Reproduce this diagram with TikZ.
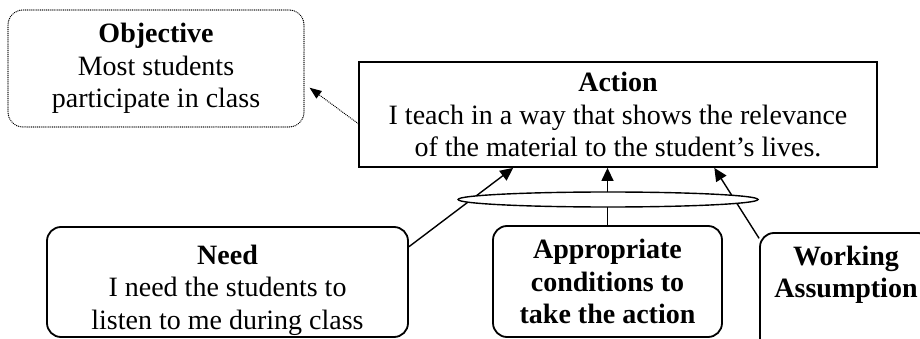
\documentclass[tikz,border=0pt]{standalone}
\usepackage{fontspec}
\setmainfont{Liberation Serif}
\usetikzlibrary{arrows.meta,calc,shapes.geometric}
\begin{document}
\begin{tikzpicture}[x=1pt,y=1pt,
  txt/.style={font=\fontsize{28}{32.5}\selectfont, align=center},
  boldtxt/.style={font=\fontsize{28}{32.5}\selectfont\bfseries, align=center},
  solidbox/.style={draw, line width=1.8pt, rounded corners=14pt, inner sep=0pt},
  dotbox/.style={draw, line width=1.4pt, dash pattern=on 0.01pt off 1.9pt, line cap=round, rounded corners=15pt, inner sep=0pt},
  plainbox/.style={draw, line width=1.8pt, inner sep=0pt},
  link/.style={line width=1.4pt},
  arrowlink/.style={link, -{Triangle[length=13pt,width=12pt]}},
  dotlink/.style={line width=1.4pt, dash pattern=on 0.01pt off 1.9pt, line cap=round, -{Triangle[length=12pt,width=9pt]}, shorten >=6pt},
  groupring/.style={draw, ellipse, line width=1.4pt, fill=white, inner sep=0pt}
]
\useasboundingbox (0,0) rectangle (920,-339);
\clip (0,0) rectangle (920,-339);

% goal box
\node[dotbox, txt, minimum width=296pt, minimum height=117pt] (obj) at (156,-68.5)
  {\textbf{Objective}\\Most students\\participate in class};

% action box
\node[plainbox, txt, minimum width=518pt, minimum height=105pt] (act) at (618,-114.5)
  {\textbf{Action}\\I teach in a way that shows the relevance\\of the material to the student’s lives.};

% supporting boxes
\node[solidbox, minimum width=361pt, minimum height=110pt] (need) at (227.5,-282) {};
\node[txt] (needtxt) at (227.5,-290) {\textbf{Need}\\I need the students to\\listen to me during class};
\node[solidbox, boldtxt, minimum width=229pt, minimum height=111pt] (cond) at (607.5,-281.5)
  {Appropriate\\conditions to\\take the action};
\node[solidbox, minimum width=172pt, minimum height=137pt] (work) at (846,-301.5) {};
\node[boldtxt] (worktxt) at (846,-275) {Working\\Assumption};

% connectors into the action
\draw[arrowlink] (need.11) -- (act.207);
\draw[arrowlink] (cond.north) -- (cond.north |- act.south);
\draw[arrowlink] (work.144) -- (act.-29);
\node[groupring, minimum width=300pt, minimum height=15pt] (grp) at (608,-199.5) {};

% action leads to the objective
\draw[dotlink] (act.182) -- (obj.-6);
\end{tikzpicture}
\end{document}
